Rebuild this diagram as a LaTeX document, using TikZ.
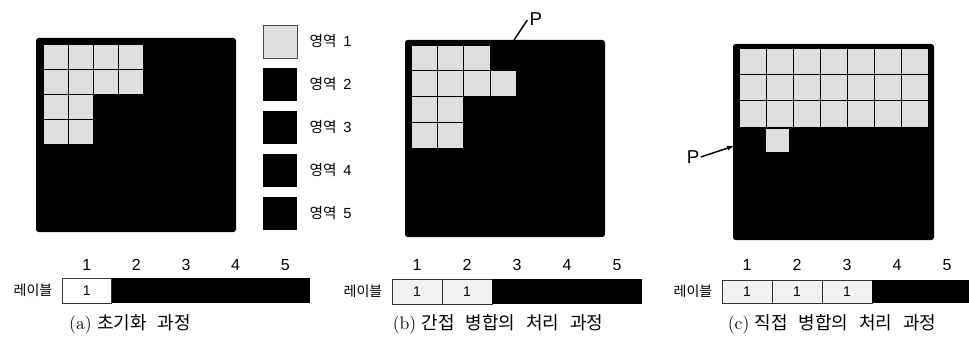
\documentclass[tikz,border=0pt]{standalone}
\usepackage{fontspec}
\newfontfamily\cjk{Noto Sans CJK KR}
\newfontfamily\numfont{Liberation Sans}
\usetikzlibrary{arrows.meta,positioning}

\begin{document}
\begin{tikzpicture}[
      x=0.75pt, y=-0.75pt,
      >=Latex,
      region/.style={fill=black, rounded corners=2pt},
      cell/.style={draw=black, fill=gray!25, line width=0.5pt},
      slot/.style={draw=black!80, line width=0.5pt},
      legbox/.style={draw=black!70, line width=0.5pt},
      idx/.style={font=\numfont\fontsize{12}{14}\selectfont},
      val/.style={font=\numfont\fontsize{10.5}{12}\selectfont},
      legtext/.style={anchor=west, font=\fontsize{11}{13}\selectfont},
      rowname/.style={anchor=east, font=\cjk\fontsize{10.5}{12}\selectfont},
      caption/.style={font=\fontsize{13.5}{15}\selectfont},
      lead/.style={line width=1.1pt}
    ]
    \useasboundingbox (0,0) rectangle (969,346);

    % (a)
    \fill[region] (36,38) rectangle (236,232);
    \foreach \c/\r in {0/0,1/0,2/0,3/0,0/1,1/1,2/1,3/1,0/2,1/2,0/3,1/3}
      \draw[cell] ({43+25*\c},{44+25*\r}) rectangle ++(25,25);

    \foreach \k in {1,...,5} {
      \ifnum\k=1
        \draw[legbox, fill=gray!25] (263,{25+43*(\k-1)}) rectangle ++(34,33);
      \else
        \fill[black] (263,{25+43*(\k-1)}) rectangle ++(34,33);
      \fi
      \node[legtext] (leg\k) at (305,{41.5+43*(\k-1)}) {{\cjk 영역}\hspace{0.45em}{\numfont\k}};
    }

    \node[rowname] (rowa) at (57,290.5) {레이블};
    \foreach \i in {1,...,5} {
      \ifnum\i=1
        \draw[slot, fill=white] ({62+49.6*(\i-1)},278) rectangle ++(49.6,25);
        \node[val] (va\i) at ({86.8+49.6*(\i-1)},290.5) {1};
      \else
        \fill[black] ({62+49.6*(\i-1)},278) rectangle ++(49.6,25);
      \fi
      \node[idx] (ia\i) at ({86.8+49.6*(\i-1)},265) {\i};
    }
    \node[caption] (capa) at (130,324) {(a)\hspace{0.3em}{\cjk 초기화\hspace{0.6em}과정}};

    % (b)
    \fill[region] (405,40) rectangle (605,237);
    \foreach \c/\r in {0/0,1/0,2/0,0/1,1/1,2/1,3/1,0/2,1/2,0/3,1/3}
      \draw[cell] ({411+26.3*\c},{45+25.8*\r}) rectangle ++(26.3,25.8);
    \coordinate (pb) at (514,40);
    \node[anchor=west, inner sep=1pt, font=\numfont\fontsize{14}{16}\selectfont] (lblPb) at (528,19) {P};
    \draw[lead, shorten >=1pt] (pb) -- (lblPb.west);

    \node[rowname] (rowb) at (387,291.5) {레이블};
    \foreach \i in {1,...,5} {
      \ifnum\i<3
        \draw[slot, fill=gray!10] ({392+50*(\i-1)},279) rectangle ++(50,25);
        \node[val] (vb\i) at ({417+50*(\i-1)},291.5) {1};
      \else
        \fill[black] ({392+50*(\i-1)},279) rectangle ++(50,25);
      \fi
      \node[idx] (ib\i) at ({417+50*(\i-1)},265) {\i};
    }
    \node[caption] (capb) at (498,324) {(b)\hspace{0.3em}{\cjk 간접\hspace{0.6em}병합의\hspace{0.6em}처리\hspace{0.6em}과정}};

    % (c)
    \fill[region] (733,44) rectangle (934,240);
    \foreach \c in {0,...,6}
      \foreach \r in {0,1,2}
        \draw[cell] ({739+27.1*\c},{48+26.3*\r}) rectangle ++(27.1,26.3);
    \draw[cell] (765,128) rectangle (789,152);
    \coordinate (pc) at (734,146);
    \node[inner sep=1pt, font=\numfont\fontsize{14}{16}\selectfont] (lblPc) at (693,157) {P};
    \draw[lead, ->, >={Latex[length=5pt]}] (lblPc.east) -- (pc);

    \node[rowname] (rowc) at (717,291.5) {레이블};
    \foreach \i in {1,...,5} {
      \ifnum\i<4
        \draw[slot, fill=gray!10] ({722+50*(\i-1)},280) rectangle ++(50,23);
        \node[val] (vc\i) at ({747+50*(\i-1)},291.5) {1};
      \else
        \fill[black] ({722+50*(\i-1)},280) rectangle ++({min(50,969-722-50*(\i-1))},23);
      \fi
      \node[idx] (ic\i) at ({747+50*(\i-1)},265) {\i};
    }
    \node[caption] (capc) at (832,324) {(c)\hspace{0.3em}{\cjk 직접\hspace{0.6em}병합의\hspace{0.6em}처리\hspace{0.6em}과정}};
  \end{tikzpicture}
\end{document}
